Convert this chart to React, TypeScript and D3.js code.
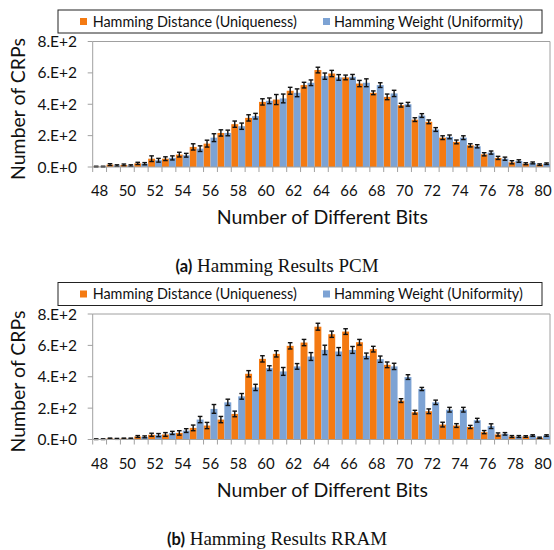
import * as d3 from 'd3';

// Number of differing bits (x categories)
const bits = [48, 49, 50, 51, 52, 53, 54, 55, 56, 57, 58, 59, 60, 61, 62, 63, 64,
  65, 66, 67, 68, 69, 70, 71, 72, 73, 74, 75, 76, 77, 78, 79, 80];
const bitLabels = [48, 50, 52, 54, 56, 58, 60, 62, 64, 66, 68, 70, 72, 74, 76, 78, 80];
const yTicks = [0, 200, 400, 600, 800];

// (a) PCM
const pcmHD = [2, 15, 13, 23, 53, 53, 79, 128, 149, 217, 273, 313, 415, 430, 486, 522, 618,
  596, 571, 532, 473, 447, 394, 302, 288, 187, 160, 138, 81, 58, 30, 21, 15];
const pcmHW = [2, 9, 9, 21, 43, 58, 75, 117, 187, 217, 260, 324, 422, 437, 473, 537, 579,
  571, 575, 537, 522, 469, 400, 328, 239, 192, 187, 132, 92, 53, 38, 26, 21];
const pcmHDErr = [3, 6, 6, 7, 18, 12, 15, 20, 22, 20, 20, 20, 20, 32, 22, 18, 18,
  20, 15, 20, 12, 18, 12, 12, 12, 12, 12, 10, 10, 10, 10, 6, 5];
const pcmHWErr = [3, 5, 5, 7, 12, 13, 12, 18, 25, 18, 20, 18, 18, 28, 25, 18, 20,
  18, 15, 25, 15, 20, 12, 12, 12, 12, 12, 10, 10, 10, 8, 6, 5];

// (b) RRAM
const rramHD = [2, 6, 6, 19, 30, 32, 42, 74, 89, 127, 163, 419, 514, 546, 597, 618, 719,
  671, 688, 620, 576, 476, 248, 174, 180, 95, 89, 80, 47, 32, 19, 19, 11];
const rramHW = [2, 4, 6, 17, 28, 42, 57, 127, 195, 237, 275, 332, 455, 434, 466, 529, 571,
  561, 571, 533, 512, 466, 398, 322, 237, 190, 190, 123, 85, 36, 19, 25, 25];
const rramHDErr = [2, 3, 3, 6, 10, 12, 14, 18, 20, 20, 18, 20, 20, 20, 20, 20, 22,
  20, 18, 18, 18, 18, 12, 12, 15, 15, 12, 10, 10, 10, 6, 5, 4];
const rramHWErr = [2, 3, 3, 6, 10, 10, 12, 20, 28, 20, 18, 20, 15, 25, 18, 25, 30,
  25, 22, 18, 20, 20, 15, 10, 14, 15, 15, 12, 15, 8, 6, 5, 5];

const ORANGE = '#F47A12';
const BLUE = '#7DA3D4';
const AXIS = '#A0A0A0';
const FONT = 'Lato, sans-serif';

const X0 = 92.7;
const X1 = 550;
const PLOT_H = 125.5;

const fmtY = (d: number) => (d === 0 ? '0.E+0' : `${d / 100}.E+2`);

function Panel({ top, hd, hw, hdErr, hwErr, tag, caption }: any) {
  const x = d3.scaleBand<number>().domain(bits).range([X0, X1]).padding(0);
  const sub = d3.scaleBand<string>().domain(['hd', 'hw']).range([0, x.bandwidth()]).padding(0);
  const y = d3.scaleLinear().domain([0, 800]).range([top + PLOT_H, top]);
  const bottom = top + PLOT_H;

  const series = [
    { key: 'hd', vals: hd, err: hdErr, color: ORANGE },
    { key: 'hw', vals: hw, err: hwErr, color: BLUE },
  ];

  const boundaries = bits.map((b) => x(b)!).concat([X1]);

  return (
    <g>
      {/* legend */}
      <rect x={58} y={top - 31.5} width={484} height={23} fill="white" stroke="#222" strokeWidth={1} />
      <rect x={80} y={top - 23.5} width={7} height={7} fill={ORANGE} />
      <text x={92.7} y={top - 15} fontFamily={FONT} fontSize={14.4} fill="#111">Hamming Distance (Uniqueness)</text>
      <rect x={323} y={top - 23.5} width={7} height={7} fill={BLUE} />
      <text x={334} y={top - 15} fontFamily={FONT} fontSize={14.4} fill="#111">Hamming Weight (Uniformity)</text>

      {/* plot frame */}
      <line x1={X0} x2={X1} y1={top} y2={top} stroke={AXIS} />
      <line x1={X1} x2={X1} y1={top} y2={bottom} stroke={AXIS} />

      {/* bars */}
      {series.map((s) =>
        bits.map((b, i) => (
          <rect key={s.key + b} x={x(b)! + sub(s.key)!} y={y(s.vals[i])}
            width={sub.bandwidth()} height={bottom - y(s.vals[i])} fill={s.color} />
        ))
      )}

      {/* error bars */}
      {series.map((s) =>
        bits.map((b, i) => {
          const cx = x(b)! + sub(s.key)! + sub.bandwidth() / 2;
          const lo = y(Math.max(0, s.vals[i] - s.err[i]));
          const hi = y(s.vals[i] + s.err[i]);
          return (
            <g key={'e' + s.key + b} stroke="#111" strokeWidth={1.4}>
              <line x1={cx} x2={cx} y1={lo} y2={hi} />
              <line x1={cx - 2.3} x2={cx + 2.3} y1={hi} y2={hi} />
              <line x1={cx - 2.3} x2={cx + 2.3} y1={lo} y2={lo} />
            </g>
          );
        })
      )}

      {/* y axis */}
      <line x1={X0} x2={X0} y1={top} y2={bottom} stroke={AXIS} />
      {yTicks.map((t) => (
        <g key={'yt' + t}>
          <line x1={X0 - 5} x2={X0} y1={y(t)} y2={y(t)} stroke={AXIS} />
          <text x={77} y={y(t) + 5.5} textAnchor="end" fontFamily={FONT} fontSize={15.5} fill="#111">{fmtY(t)}</text>
        </g>
      ))}

      {/* x axis */}
      <line x1={X0} x2={X1} y1={bottom} y2={bottom} stroke={AXIS} />
      {boundaries.map((bx, i) => (
        <line key={'xt' + i} x1={bx} x2={bx} y1={bottom} y2={bottom + 5} stroke={AXIS} />
      ))}
      {bitLabels.map((b) => (
        <text key={'xl' + b} x={x(b)! + x.bandwidth() / 2} y={top + 154.5} textAnchor="middle"
          fontFamily={FONT} fontSize={15} fill="#111">{b}</text>
      ))}

      <text x={(X0 + X1) / 2 + 1} y={top + 182.5} textAnchor="middle" fontFamily={FONT} fontSize={19.5} fill="#111">
        Number of Different Bits
      </text>
      <text transform={`translate(25,${top + 67.5}) rotate(-90)`} textAnchor="middle" fontFamily={FONT}
        fontSize={19.5} fill="#111">Number of CRPs</text>

      {/* caption */}
      <text x={277} y={top + 230.5} textAnchor="middle" fill="#111">
        <tspan fontFamily={FONT} fontWeight="bold" fontSize={16.5}>({tag})</tspan>
        <tspan fontFamily="'Liberation Serif', serif" fontSize={19}> {caption}</tspan>
      </text>
    </g>
  );
}

export default function App() {
  return (
    <div style={{ position: 'absolute', left: 0, top: 0 }}>
      <svg width={554} height={550} style={{ display: 'block', background: 'white' }}>
        <Panel top={41.5} hd={pcmHD} hw={pcmHW} hdErr={pcmHDErr} hwErr={pcmHWErr}
          tag="a" caption="Hamming Results PCM" />
        <Panel top={314} hd={rramHD} hw={rramHW} hdErr={rramHDErr} hwErr={rramHWErr}
          tag="b" caption="Hamming Results RRAM" />
      </svg>
    </div>
  );
}
